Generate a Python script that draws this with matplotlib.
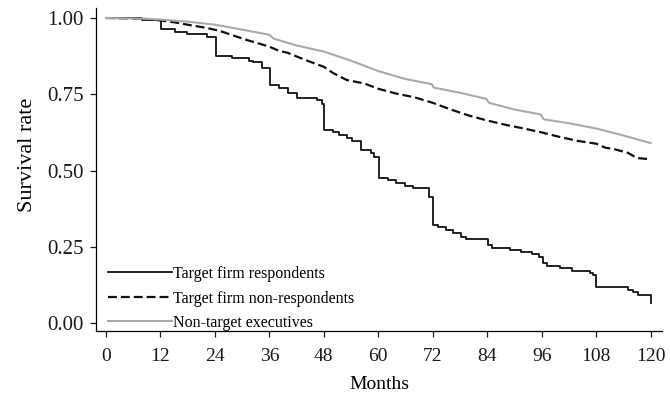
import matplotlib
matplotlib.use("Agg")
import matplotlib.pyplot as plt

# Target firm respondents (Kaplan-Meier step curve)
resp_t = [0, 7.9, 12.1, 15.2, 17.8, 22.2, 24.2, 27.7, 31.6, 32.5, 34.3, 36.1, 38.2, 40.2, 42, 46.4,
          47.5, 48.1, 50.1, 51.4, 53, 54.3, 56.1, 58.5, 59.1, 60.1, 62.2, 64, 65.9, 67.7, 71.1, 72.1,
          73.2, 75, 76.5, 78.3, 79.4, 84.2, 85, 89.1, 91.5, 93.8, 95.4, 96.2, 97.2, 100.1, 102.7,
          106.7, 107.3, 108, 115, 116.1, 117.2, 120]
resp_s = [1, 0.993, 0.964, 0.955, 0.946, 0.939, 0.875, 0.868, 0.859, 0.855, 0.835, 0.780, 0.771,
          0.753, 0.739, 0.731, 0.718, 0.633, 0.627, 0.616, 0.606, 0.597, 0.567, 0.558, 0.545, 0.474,
          0.469, 0.458, 0.449, 0.442, 0.414, 0.321, 0.316, 0.305, 0.294, 0.283, 0.275, 0.256, 0.247,
          0.239, 0.232, 0.225, 0.217, 0.198, 0.188, 0.179, 0.171, 0.165, 0.157, 0.117, 0.110, 0.103,
          0.092, 0.067]

# Target firm non-respondents
nonresp_t = [0, 8, 12, 15, 18, 22, 25, 28, 31, 34, 36, 38, 40, 44, 48, 50, 53, 57, 60, 64, 68, 72,
             76, 80, 84, 88, 92, 96, 100, 104, 108, 110, 112, 115, 117, 120]
nonresp_s = [1.0, 0.998, 0.992, 0.986, 0.978, 0.968, 0.958, 0.943, 0.928, 0.915, 0.906, 0.893, 0.886,
             0.862, 0.840, 0.820, 0.797, 0.785, 0.768, 0.752, 0.740, 0.722, 0.700, 0.680, 0.664,
             0.650, 0.638, 0.625, 0.610, 0.597, 0.588, 0.575, 0.570, 0.558, 0.541, 0.537]

# Non-target executives
nontarget_t = [0, 8, 12, 18, 24, 30, 36, 37, 42, 48, 54, 60, 66, 71.8, 72.2, 78, 83.8, 84.4, 90,
               95.8, 96.4, 102, 108, 114, 120]
nontarget_s = [1.0, 0.998, 0.995, 0.988, 0.978, 0.962, 0.945, 0.932, 0.910, 0.890, 0.860, 0.826,
               0.800, 0.783, 0.772, 0.755, 0.735, 0.722, 0.700, 0.684, 0.668, 0.655, 0.638, 0.615,
               0.590]

labels = ["Target firm respondents", "Target firm non-respondents", "Non-target executives"]
x_ticks = list(range(0, 121, 12))
y_ticks = [0.0, 0.25, 0.5, 0.75, 1.0]

plt.rcParams['font.family'] = ['Liberation Serif', 'DejaVu Serif']

fig = plt.figure(figsize=(6.7, 3.97), dpi=100)
ax = fig.add_axes([0.1433, 0.1662, 0.988 - 0.1433, 0.98 - 0.1662])

ax.step(resp_t, resp_s, where='post', color='#111111', lw=1.3, label=labels[0])
l2, = ax.plot(nonresp_t, nonresp_s, color='#111111', lw=1.6, label=labels[1])
l2.set_dashes([4, 1.8])
ax.plot(nontarget_t, nontarget_s, color='#aaaaaa', lw=1.5, label=labels[2])

ax.set_xlim(-2.2, 122.5)
ax.set_ylim(-0.026, 1.033)
ax.set_xticks(x_ticks)
ax.set_yticks(y_ticks)
ax.set_yticklabels([f"{v:.2f}" for v in y_ticks])
for s in ['top', 'right']:
    ax.spines[s].set_visible(False)
for s in ['left', 'bottom']:
    ax.spines[s].set_linewidth(0.9)
ax.tick_params(direction='out', length=4.5, width=0.9, colors='#1a1a1a')
ax.tick_params(axis='x', labelsize=14, pad=7.5)
ax.tick_params(axis='y', labelsize=15, pad=4.5)
ax.set_xlabel("Months", fontsize=14, labelpad=8)
ax.set_ylabel("Survival rate", fontsize=16)
ax.yaxis.set_label_coords(-0.105, 0.545)

leg = ax.legend(loc='lower left', bbox_to_anchor=(0.022, 0.0), frameon=False, fontsize=11.5,
                handlelength=4.0, handletextpad=0.05, labelspacing=0.53, borderaxespad=0.0,
                borderpad=0.0)

fig.savefig("out.png", dpi=100)
